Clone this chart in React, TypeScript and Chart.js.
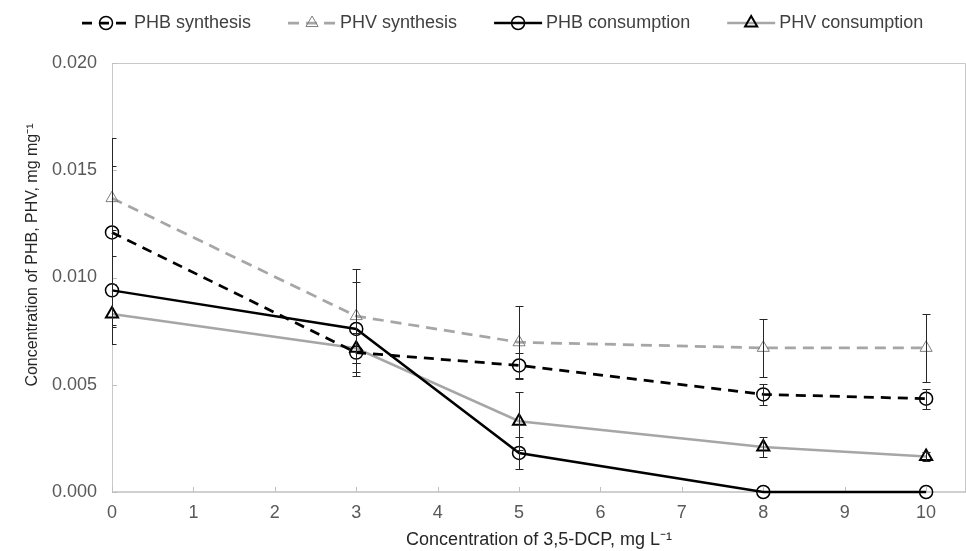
import React, { useEffect, useRef } from 'react';
import { Chart, registerables } from 'chart.js';

Chart.register(...registerables);

// ---- data ----
const xValues = [0, 3, 5, 8, 10];
const phbSynthesis = [0.0121, 0.0065, 0.0059, 0.00455, 0.00435];
const phbSynthesisErr = [0.0044, 0.0009, 0.0006, 0.0005, 0.00047];
const phvSynthesis = [0.0137, 0.0082, 0.00698, 0.00672, 0.00672];
const phvSynthesisErr = [0.0015, 0.0022, 0.0017, 0.00135, 0.0016];
const phbConsumption = [0.0094, 0.0076, 0.00182, 0, 0];
const phbConsumptionErr = [0.0016, 0.0022, 0.00075, 0, 0];
const phvConsumption = [0.0083, 0.0067, 0.0033, 0.0021, 0.00165];
const phvConsumptionErr = [0.0014, 0.0007, 0.00135, 0.00045, 0.0002];

const seriesLabels = ['PHB synthesis', 'PHV synthesis', 'PHB consumption', 'PHV consumption'];
const xTickValues = [0, 1, 2, 3, 4, 5, 6, 7, 8, 9, 10];
const yTickValues = [0, 0.005, 0.01, 0.015, 0.02];
const xTitle = 'Concentration of 3,5-DCP, mg L⁻¹';
const yTitle = 'Concentration of PHB, PHV, mg mg⁻¹';

const FONT = '"Liberation Sans", Arial, sans-serif';
const BLACK = '#000000';
const GREY = '#a6a6a6';

const toPoints = (ys: number[]) => xValues.map((x, i) => ({ x, y: ys[i] }));

const framePlugin = {
  id: 'frame',
  beforeDatasetsDraw(chart: any) {
    const { ctx, chartArea } = chart;
    const { left, top, right, bottom } = chartArea;
    ctx.save();
    ctx.strokeStyle = '#c8c8c8';
    ctx.lineWidth = 1;
    ctx.beginPath();
    ctx.moveTo(left + 0.5, bottom);
    ctx.lineTo(left + 0.5, top + 0.5);
    ctx.lineTo(right - 0.5, top + 0.5);
    ctx.lineTo(right - 0.5, bottom);
    ctx.stroke();
    ctx.strokeStyle = '#bfbfbf';
    ctx.lineWidth = 1.5;
    ctx.beginPath();
    ctx.moveTo(left, bottom);
    ctx.lineTo(right, bottom);
    ctx.stroke();
    ctx.lineWidth = 1;
    const xs = chart.scales.x;
    const ys = chart.scales.y;
    ctx.beginPath();
    xTickValues.forEach((v) => {
      const px = Math.round(xs.getPixelForValue(v)) + 0.5;
      ctx.moveTo(px, bottom);
      ctx.lineTo(px, bottom - 5);
    });
    yTickValues.forEach((v) => {
      const py = Math.round(ys.getPixelForValue(v)) + 0.5;
      ctx.moveTo(left, py);
      ctx.lineTo(left + 5, py);
    });
    ctx.stroke();
    ctx.restore();
  },
};

const errorBarPlugin = {
  id: 'errorBars',
  afterDatasetsDraw(chart: any) {
    const { ctx, chartArea } = chart;
    const xs = chart.scales.x;
    const ys = chart.scales.y;
    ctx.save();
    ctx.beginPath();
    ctx.rect(chartArea.left, chartArea.top, chartArea.right - chartArea.left, chartArea.bottom - chartArea.top + 10);
    ctx.clip();
    ctx.strokeStyle = '#262626';
    ctx.lineWidth = 1;
    chart.data.datasets.forEach((ds: any) => {
      const errs: number[] = ds.errors || [];
      ds.data.forEach((p: any, i: number) => {
        const e = errs[i];
        if (!e) return;
        const px = Math.round(xs.getPixelForValue(p.x)) + 0.5;
        const yTop = Math.round(ys.getPixelForValue(p.y + e)) + 0.5;
        const yBot = Math.round(ys.getPixelForValue(p.y - e)) + 0.5;
        ctx.beginPath();
        ctx.moveTo(px, yTop);
        ctx.lineTo(px, yBot);
        ctx.moveTo(px - 4, yTop);
        ctx.lineTo(px + 4, yTop);
        ctx.moveTo(px - 4, yBot);
        ctx.lineTo(px + 4, yBot);
        ctx.stroke();
      });
    });
    ctx.restore();
  },
};

const legendPlugin = {
  id: 'customLegend',
  afterDraw(chart: any) {
    const { ctx } = chart;
    ctx.save();
    ctx.font = `18px ${FONT}`;
    ctx.textBaseline = 'middle';
    ctx.textAlign = 'left';
    const y = 23;
    const symW = 48;
    let x = 82;
    chart.data.datasets.forEach((ds: any) => {
      ctx.save();
      ctx.strokeStyle = ds.borderColor;
      ctx.lineWidth = ds.borderWidth;
      ctx.setLineDash(ds.borderDash || []);
      ctx.beginPath();
      ctx.moveTo(x, y);
      ctx.lineTo(x + symW, y);
      ctx.stroke();
      ctx.setLineDash([]);
      ctx.restore();
      ctx.save();
      ctx.strokeStyle = ds.pointBorderColor;
      ctx.lineWidth = ds.pointBorderWidth;
      ctx.beginPath();
      const cx = x + symW / 2;
      if (ds.pointStyle === 'circle') {
        ctx.arc(cx, y, ds.pointRadius, 0, Math.PI * 2);
      } else {
        const r = ds.pointRadius;
        ctx.moveTo(cx, y - r);
        ctx.lineTo(cx + r * Math.sin((2 * Math.PI) / 3), y - r * Math.cos((2 * Math.PI) / 3));
        ctx.lineTo(cx + r * Math.sin((4 * Math.PI) / 3), y - r * Math.cos((4 * Math.PI) / 3));
        ctx.closePath();
      }
      ctx.stroke();
      ctx.restore();
      ctx.fillStyle = '#404040';
      ctx.fillText(ds.label, x + symW + 4, y);
      x += symW + 4 + ctx.measureText(ds.label).width + 37;
    });
    ctx.restore();
  },
};

const yTitlePlugin = {
  id: 'yTitle',
  afterDraw(chart: any) {
    const { ctx } = chart;
    ctx.save();
    ctx.translate(33, 255);
    ctx.rotate(-Math.PI / 2);
    ctx.font = `16px ${FONT}`;
    ctx.fillStyle = '#262626';
    ctx.textAlign = 'center';
    ctx.textBaseline = 'middle';
    ctx.fillText(yTitle, 0, 0);
    ctx.restore();
  },
};

export default function App() {
  const canvasRef = useRef<HTMLCanvasElement | null>(null);

  useEffect(() => {
    const canvas = canvasRef.current;
    if (!canvas) return;
    const chart = new Chart(canvas, {
      type: 'line',
      data: {
        datasets: [
          {
            label: seriesLabels[0],
            data: toPoints(phbSynthesis),
            errors: phbSynthesisErr,
            borderColor: BLACK,
            borderWidth: 2.75,
            borderDash: [10, 7],
            pointStyle: 'circle',
            pointRadius: 6.5,
            pointBorderColor: BLACK,
            pointBorderWidth: 1.5,
            pointBackgroundColor: 'rgba(0,0,0,0)',
            tension: 0,
            clip: false,
          } as any,
          {
            label: seriesLabels[1],
            data: toPoints(phvSynthesis),
            errors: phvSynthesisErr,
            borderColor: GREY,
            borderWidth: 2.75,
            borderDash: [11, 7],
            pointStyle: 'triangle',
            pointRadius: 7,
            pointBorderColor: '#7f7f7f',
            pointBorderWidth: 1,
            pointBackgroundColor: 'rgba(0,0,0,0)',
            tension: 0,
            clip: false,
          } as any,
          {
            label: seriesLabels[2],
            data: toPoints(phbConsumption),
            errors: phbConsumptionErr,
            borderColor: BLACK,
            borderWidth: 2.5,
            pointStyle: 'circle',
            pointRadius: 6.5,
            pointBorderColor: BLACK,
            pointBorderWidth: 1.5,
            pointBackgroundColor: 'rgba(0,0,0,0)',
            tension: 0,
            clip: false,
          } as any,
          {
            label: seriesLabels[3],
            data: toPoints(phvConsumption),
            errors: phvConsumptionErr,
            borderColor: GREY,
            borderWidth: 2.5,
            pointStyle: 'triangle',
            pointRadius: 7,
            pointBorderColor: BLACK,
            pointBorderWidth: 2,
            pointBackgroundColor: 'rgba(0,0,0,0)',
            tension: 0,
            clip: false,
          } as any,
        ],
      },
      options: {
        animation: false,
        responsive: false,
        maintainAspectRatio: false,
        layout: { autoPadding: false, padding: { top: 63, right: 0, left: 0, bottom: 0 } },
        plugins: {
          legend: { display: false },
          tooltip: { enabled: false },
        },
        scales: {
          x: {
            type: 'linear',
            min: 0,
            max: 10.49,
            grid: { display: false, drawTicks: false },
            border: { display: false },
            afterBuildTicks: (scale: any) => {
              scale.ticks = xTickValues.map((v) => ({ value: v }));
            },
            afterFit: (scale: any) => {
              scale.height = 59;
              scale.paddingRight = 0;
              scale.paddingLeft = 0;
            },
            ticks: {
              padding: 10,
              color: '#595959',
              font: { family: FONT, size: 18 },
              maxRotation: 0,
              callback: (v: any) => String(v),
            },
            title: {
              display: true,
              text: xTitle,
              color: '#262626',
              font: { family: FONT, size: 18 },
              padding: { top: 0, bottom: 0 },
            },
          },
          y: {
            type: 'linear',
            min: 0,
            max: 0.02,
            grid: { display: false, drawTicks: false },
            border: { display: false },
            afterBuildTicks: (scale: any) => {
              scale.ticks = yTickValues.map((v) => ({ value: v }));
            },
            afterFit: (scale: any) => {
              scale.width = 112;
              scale.paddingTop = 0;
              scale.paddingBottom = 0;
            },
            ticks: {
              padding: 15,
              color: '#595959',
              font: { family: FONT, size: 18 },
              callback: (v: any) => Number(v).toFixed(3),
            },
            title: { display: false, text: yTitle },
          },
        },
      } as any,
      plugins: [framePlugin, errorBarPlugin, legendPlugin, yTitlePlugin],
    });
    return () => chart.destroy();
  }, []);

  return (
    <div style={{ position: 'absolute', left: 0, top: 0, width: 966, height: 551, background: '#ffffff' }}>
      <canvas ref={canvasRef} width={966} height={551} style={{ display: 'block', width: 966, height: 551 }} />
    </div>
  );
}
